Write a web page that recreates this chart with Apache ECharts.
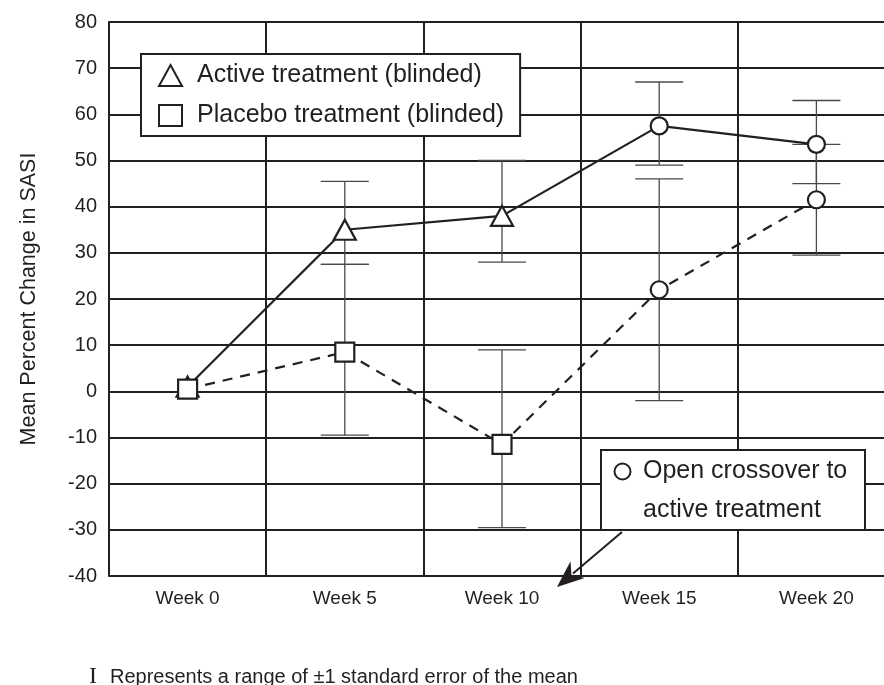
<!DOCTYPE html>
<html>
<head>
<meta charset="utf-8">
<script src="https://cdn.jsdelivr.net/npm/echarts@6/dist/echarts.min.js"></script>
<style>
    html, body { margin: 0; padding: 0; background: #fff; }
    #chart { width: 884px; height: 685px; }
</style>
</head>
<body>
<div id="chart"></div>
<script>
    // weeks on the x axis
    var weeks = ['Week 0', 'Week 5', 'Week 10', 'Week 15', 'Week 20'];
    // blinded phase first, then open crossover
    var phase = ['blinded', 'blinded', 'blinded', 'open', 'open'];

    // active treatment (solid line)
    var activeMean = [1, 35, 38, 57.5, 53.5];
    var activeLow = [null, 27.5, 28, 49, 45];
    var activeHigh = [null, 45.5, 50, 67, 63];

    // placebo treatment (dashed line)
    var placeboMean = [0.5, 8.5, -11.5, 22, 41.5];
    var placeboLow = [null, -9.5, -29.5, -2, 29.5];
    var placeboHigh = [null, 27.5, 9, 46, 53.5];

    // y axis ticks
    var yMin = -40;
    var yMax = 80;
    var yStep = 10;

    var ink = '#231f20';
    var font = '"Liberation Sans", Arial, Helvetica, sans-serif';

    function errRows(low, high) {
        var rows = [];
        low.forEach(function (v, i) {
            if (v != null) rows.push([i, v, high[i]]);
        });
        return rows;
    }

    function pickSymbol(shape) {
        return function (val, params) {
            return phase[params.dataIndex] === 'open' ? 'circle' : shape;
        };
    }
    function pickSize(size) {
        return function (val, params) {
            return phase[params.dataIndex] === 'open' ? 17 : size;
        };
    }

    function drawErr(params, api) {
        var lo = api.coord([api.value(0), api.value(1)]);
        var hi = api.coord([api.value(0), api.value(2)]);
        var half = 24;
        var st = { stroke: '#4a4a4a', lineWidth: 1.3 };
        return {
            type: 'group',
            children: [
                { type: 'line', shape: { x1: lo[0], y1: lo[1], x2: hi[0], y2: hi[1] }, style: st },
                { type: 'line', shape: { x1: hi[0] - half, y1: hi[1], x2: hi[0] + half, y2: hi[1] }, style: st },
                { type: 'line', shape: { x1: lo[0] - half, y1: lo[1], x2: lo[0] + half, y2: lo[1] }, style: st }
            ]
        };
    }

    // arrow from the crossover box down to the axis
    var arrowFrom = [622, 532];
    var arrowTip = [557, 587];
    var dx = arrowFrom[0] - arrowTip[0], dy = arrowFrom[1] - arrowTip[1];
    var len = Math.sqrt(dx * dx + dy * dy);
    var ux = dx / len, uy = dy / len;
    var headLen = 27, headW = 11;
    var baseX = arrowTip[0] + ux * headLen, baseY = arrowTip[1] + uy * headLen;
    var head = [
        arrowTip,
        [baseX - uy * headW, baseY + ux * headW],
        [arrowTip[0] + ux * headLen * 0.7, arrowTip[1] + uy * headLen * 0.7],
        [baseX + uy * headW, baseY - ux * headW]
    ];

    var chart = echarts.init(document.getElementById('chart'), null, { renderer: 'canvas' });
    chart.setOption({
        animation: false,
        backgroundColor: '#fff',
        textStyle: { fontFamily: font, color: ink },
        // plot runs off the right edge, like the scan
        grid: { left: 109, top: 22, right: -11, bottom: 109, outerBoundsMode: 'none' },
        legend: {
            left: 141,
            top: 54,
            orient: 'vertical',
            backgroundColor: '#fff',
            borderColor: ink,
            borderWidth: 2,
            borderRadius: 0,
            padding: [9, 16, 8, 17],
            itemGap: 15,
            itemWidth: 23,
            itemHeight: 21,
            selectedMode: false,
            itemStyle: { color: '#fff', borderColor: ink, borderWidth: 2 },
            textStyle: { fontSize: 25, color: ink, fontFamily: font, padding: [0, 0, 0, 10] },
            data: [
                { name: 'Active treatment (blinded)', icon: 'triangle' },
                { name: 'Placebo treatment (blinded)', icon: 'rect' }
            ]
        },
        xAxis: {
            type: 'category',
            data: weeks,
            boundaryGap: true,
            axisLine: { show: true, lineStyle: { color: ink, width: 2 } },
            axisTick: { show: false },
            axisLabel: { fontSize: 19, color: ink, margin: 13, fontFamily: font },
            splitLine: { show: true, interval: 0, lineStyle: { color: ink, width: 2 } }
        },
        yAxis: {
            type: 'value',
            min: yMin,
            max: yMax,
            interval: yStep,
            name: 'Mean Percent Change in SASI',
            nameLocation: 'middle',
            nameRotate: 90,
            nameGap: 69,
            nameTextStyle: { fontSize: 21.5, color: ink, fontFamily: font },
            axisLine: { show: true, lineStyle: { color: ink, width: 2 } },
            axisTick: { show: false },
            axisLabel: { fontSize: 20, color: ink, margin: 12, fontFamily: font },
            splitLine: { show: true, lineStyle: { color: ink, width: 2 } }
        },
        series: [
            {
                type: 'custom',
                name: 'activeErr',
                renderItem: drawErr,
                encode: { x: 0, y: [1, 2] },
                data: errRows(activeLow, activeHigh),
                z: 1
            },
            {
                type: 'custom',
                name: 'placeboErr',
                renderItem: drawErr,
                encode: { x: 0, y: [1, 2] },
                data: errRows(placeboLow, placeboHigh),
                z: 1
            },
            {
                type: 'line',
                name: 'Active treatment (blinded)',
                data: activeMean,
                symbol: pickSymbol('triangle'),
                symbolSize: pickSize([22, 20]),
                itemStyle: { color: '#fff', borderColor: ink, borderWidth: 2.2 },
                lineStyle: { color: ink, width: 2.2, type: 'solid' },
                z: 3
            },
            {
                type: 'line',
                name: 'Placebo treatment (blinded)',
                data: placeboMean,
                symbol: pickSymbol('rect'),
                symbolSize: pickSize(19),
                itemStyle: { color: '#fff', borderColor: ink, borderWidth: 2.2 },
                lineStyle: { color: ink, width: 2.2, type: [10, 8] },
                z: 3
            }
        ],
        graphic: [
            {
                type: 'rect',
                z: 100,
                shape: { x: 601, y: 450, width: 264, height: 80 },
                style: { fill: '#fff', stroke: ink, lineWidth: 2 }
            },
            {
                type: 'circle',
                z: 101,
                shape: { cx: 622.5, cy: 471.5, r: 8 },
                style: { fill: '#fff', stroke: ink, lineWidth: 2 }
            },
            {
                type: 'text',
                z: 101,
                x: 643,
                y: 471.5,
                style: { text: 'Open crossover to', font: '25px ' + font, fill: ink, verticalAlign: 'middle' }
            },
            {
                type: 'text',
                z: 101,
                x: 643,
                y: 510.5,
                style: { text: 'active treatment', font: '25px ' + font, fill: ink, verticalAlign: 'middle' }
            },
            {
                type: 'line',
                z: 101,
                shape: { x1: arrowFrom[0], y1: arrowFrom[1], x2: baseX - ux * 6, y2: baseY - uy * 6 },
                style: { stroke: ink, lineWidth: 2 }
            },
            {
                type: 'polygon',
                z: 101,
                shape: { points: head },
                style: { fill: ink }
            },
            {
                type: 'text',
                z: 101,
                x: 89,
                y: 677,
                style: { text: 'I', font: '24px "Liberation Serif", "DejaVu Serif", serif', fill: ink, verticalAlign: 'middle' }
            },
            {
                type: 'text',
                z: 101,
                x: 110,
                y: 677,
                style: { text: 'Represents a range of \u00b11 standard error of the mean', font: '20px ' + font, fill: ink, verticalAlign: 'middle' }
            }
        ]
    });
</script>
</body>
</html>
